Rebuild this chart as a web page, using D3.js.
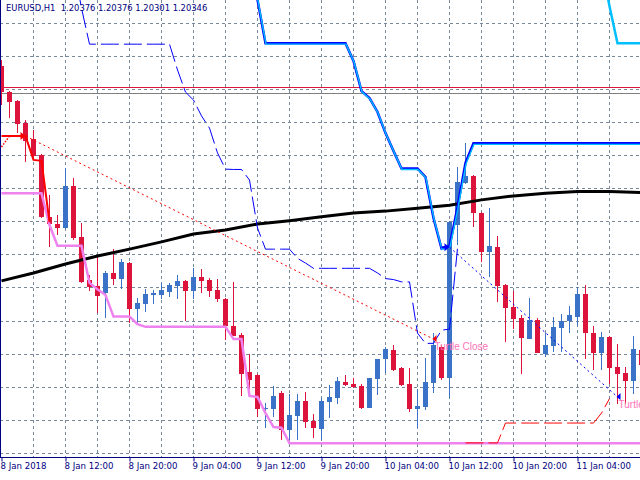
<!DOCTYPE html>
<html><head><meta charset="utf-8">
<script src="https://cdn.jsdelivr.net/npm/d3@7"></script>
<style>html,body{margin:0;padding:0;background:#fff}svg{display:block}</style>
</head><body>
<svg id="c" width="640" height="480"></svg>
<script>
// ---------- DATA (EURUSD H1, bar 0 = 8 Jan 2018 00:00) ----------
const symbolTitle = "EURUSD,H1  1.20376 1.20376 1.20301 1.20346";
const openP  = [1.20270,1.20191,1.20164,1.20097,1.20049,1.20001,1.19813,1.19792,1.19780,1.19907,1.19753,1.19623,1.19604,1.19584,1.19645,1.19626,1.19675,1.19535,1.19551,1.19578,1.19578,1.19587,1.19604,1.19620,1.19590,1.19631,1.19623,1.19592,1.19565,1.19483,1.19456,1.19344,1.19335,1.19232,1.19233,1.19281,1.19169,1.19211,1.19257,1.19197,1.19172,1.19254,1.19267,1.19315,1.19308,1.19302,1.19236,1.19324,1.19383,1.19411,1.19356,1.19308,1.19232,1.19239,1.19312,1.19421,1.19325,1.19789,1.19916,1.19937,1.19825,1.19708,1.19722,1.19607,1.19542,1.19508,1.19445,1.19502,1.19399,1.19424,1.19478,1.19499,1.19512,1.19580,1.19463,1.19403,1.19450,1.19359,1.19341,1.19318,1.19411];
const highP  = [1.20288,1.20194,1.20167,1.20107,1.20076,1.20004,1.19880,1.19819,1.19961,1.19931,1.19795,1.19638,1.19692,1.19651,1.19716,1.19686,1.19677,1.19569,1.19595,1.19592,1.19614,1.19614,1.19638,1.19623,1.19659,1.19656,1.19629,1.19626,1.19568,1.19617,1.19463,1.19399,1.19338,1.19251,1.19302,1.19287,1.19278,1.19278,1.19284,1.19217,1.19266,1.19305,1.19330,1.19335,1.19326,1.19308,1.19326,1.19384,1.19421,1.19426,1.19359,1.19356,1.19293,1.19387,1.19462,1.19426,1.19801,1.19964,1.20037,1.19940,1.19828,1.19840,1.19756,1.19610,1.19590,1.19517,1.19569,1.19508,1.19463,1.19512,1.19520,1.19544,1.19600,1.19607,1.19483,1.19466,1.19453,1.19429,1.19359,1.19453,1.19426];
const lowP   = [1.20152,1.20113,1.20067,1.19980,1.19995,1.19810,1.19722,1.19759,1.19777,1.19744,1.19614,1.19589,1.19523,1.19508,1.19607,1.19595,1.19493,1.19493,1.19527,1.19550,1.19565,1.19572,1.19565,1.19499,1.19565,1.19584,1.19571,1.19555,1.19441,1.19453,1.19272,1.19293,1.19209,1.19175,1.19209,1.19139,1.19139,1.19139,1.19175,1.19145,1.19139,1.19206,1.19247,1.19303,1.19296,1.19232,1.19235,1.19275,1.19341,1.19347,1.19302,1.19223,1.19175,1.19229,1.19282,1.19320,1.19266,1.19728,1.19913,1.19784,1.19677,1.19632,1.19557,1.19436,1.19473,1.19338,1.19444,1.19402,1.19391,1.19406,1.19406,1.19463,1.19483,1.19384,1.19350,1.19350,1.19308,1.19247,1.19247,1.19278,1.19350];
const closeP = [1.20191,1.20161,1.20094,1.20043,1.19998,1.19813,1.19792,1.19780,1.19907,1.19750,1.19617,1.19601,1.19574,1.19645,1.19626,1.19677,1.19535,1.19554,1.19580,1.19583,1.19593,1.19607,1.19620,1.19590,1.19631,1.19620,1.19590,1.19564,1.19483,1.19454,1.19338,1.19320,1.19233,1.19236,1.19272,1.19169,1.19214,1.19257,1.19194,1.19176,1.19257,1.19269,1.19317,1.19305,1.19298,1.19236,1.19326,1.19384,1.19414,1.19350,1.19305,1.19232,1.19241,1.19315,1.19426,1.19325,1.19799,1.19919,1.19937,1.19826,1.19708,1.19725,1.19604,1.19539,1.19506,1.19448,1.19502,1.19403,1.19426,1.19481,1.19499,1.19517,1.19580,1.19461,1.19403,1.19450,1.19357,1.19339,1.19318,1.19414,1.19365];

// moving average (read every 4 bars)
const maBars   = [0,4,8,12,16,20,24,28,32,36,40,44,48,52,56,60,64,68,72,76,80];
const maValues = [1.19620,1.19644,1.19671,1.19695,1.19716,1.19738,1.19762,1.19774,1.19792,1.19802,1.19814,1.19825,1.19831,1.19840,1.19849,1.19865,1.19877,1.19885,1.19890,1.19890,1.19887];

// violet trailing line, bars 0..80
const violetLine = [1.19885,1.19885,1.19885,1.19885,1.19885,1.19885,1.19789,1.19726,1.19726,1.19726,1.19726,1.19614,1.19595,1.19577,1.19512,1.19512,1.19512,1.19489,1.19481,1.19481,1.19481,1.19481,1.19481,1.19481,1.19481,1.19481,1.19481,1.19481,1.19481,1.19444,1.19444,1.19272,1.19269,1.19220,1.19178,1.19176,1.19129,1.19129,1.19129,1.19129,1.19129,1.19129,1.19129,1.19129,1.19129,1.19129,1.19129,1.19129,1.19129,1.19129,1.19129,1.19129,1.19129,1.19129,1.19129,1.19129,1.19129,1.19129,1.19129,1.19129,1.19129,1.19129,1.19129,1.19129,1.19129,1.19129,1.19129,1.19129,1.19129,1.19129,1.19129,1.19129,1.19129,1.19129,1.19129,1.19129,1.19129,1.19129,1.19129,1.19129,1.19129];

// red stop line, bars 0..6
const redStop = [1.20058,1.20058,1.20058,1.20058,1.19986,1.19983,1.19798];
const redStopLead = [1.20025,1.20058];   // bars 0..1, dotted

// thin blue dashed line, bars 9..57
const blueThinStart = 9;
const blueThin = [1.20575,1.20445,1.20336,1.20336,1.20336,1.20336,1.20336,1.20336,1.20336,1.20336,1.20336,1.20336,1.20336,1.20258,1.20191,1.20167,1.20119,1.20082,1.20007,1.19958,1.19957,1.19957,1.19925,1.19780,1.19716,1.19716,1.19716,1.19716,1.19688,1.19674,1.19658,1.19658,1.19658,1.19658,1.19658,1.19658,1.19658,1.19658,1.19644,1.19627,1.19624,1.19617,1.19617,1.19462,1.19431,1.19431,1.19471,1.19474,1.19719];

// thick channel line (blue + cyan), bars 31..80
const channelStart = 31;
const channel = [1.20591,1.20470,1.20339,1.20339,1.20339,1.20339,1.20339,1.20339,1.20339,1.20339,1.20339,1.20339,1.20339,1.20285,1.20194,1.20173,1.20131,1.20067,1.20013,1.19960,1.19960,1.19960,1.19934,1.19810,1.19718,1.19725,1.19843,1.19977,1.20036,1.20036,1.20036,1.20036,1.20036,1.20036,1.20036,1.20036,1.20036,1.20036,1.20036,1.20036,1.20036,1.20036,1.20036,1.20036,1.20036,1.20036,1.20036,1.20036,1.20036,1.20036];
// second cyan segment, bars 75..80
const cyanStart = 75;
const cyanTop = [1.20574,1.20451,1.20339,1.20339,1.20339,1.20339];

// red dashed line, bars 58..76
const redDashStart = 58;
const redDash = [1.19130,1.19130,1.19130,1.19130,1.19130,1.19190,1.19190,1.19190,1.19190,1.19190,1.19190,1.19190,1.19190,1.19190,1.19190,1.19190,1.19190,1.19220,1.19264];

// horizontal price lines
const hLines = [{p:1.20206,c:"#dc143c"},{p:1.20188,c:"#808080"}];

// trades: [openBar, openPrice, closeBar, closePrice]
const trades = [
  {ob:3, op:1.20058, cb:54, cp:1.19444, color:"#ff0000", label:"Turtle Close"},
  {ob:56, op:1.19722, cb:77, cp:1.19269, color:"#0000ff", label:"Turtle Close"}
];

const gridPrices = [1.191,1.192,1.193,1.194,1.195,1.196,1.197,1.198,1.199,1.200,1.201,1.202,1.203,1.204];
const gridBars = [4,8,12,16,20,24,28,32,36,40,44,48,52,56,60,64,68,72,76,80];
const tickBars = [0,8,16,24,32,40,48,56,64,72];
const tickLabels = ["8 Jan 2018","8 Jan 12:00","8 Jan 20:00","9 Jan 04:00","9 Jan 12:00","9 Jan 20:00","10 Jan 04:00","10 Jan 12:00","10 Jan 20:00","11 Jan 04:00"];

// ---------- DRAW ----------
const svg = d3.select("#c");
const axisY = 457;
const x = d3.scaleLinear().domain([0,80]).range([1.5,641.5]);
const y = d3.scaleLinear().domain([1.1910,1.2040]).range([452.8,23]);

svg.append("defs").append("clipPath").attr("id","plot")
  .append("rect").attr("x",0).attr("y",0).attr("width",640).attr("height",axisY);
const plot = svg.append("g").attr("clip-path","url(#plot)");

// grid
const gridC = "#778899";
plot.append("g").selectAll("line").data(gridPrices).join("line")
  .attr("x1",0).attr("x2",640)
  .attr("y1",d=>Math.round(y(d))+0.5).attr("y2",d=>Math.round(y(d))+0.5)
  .attr("stroke",gridC).attr("stroke-width",1).attr("stroke-dasharray","3,3")
  .attr("shape-rendering","crispEdges");
plot.append("g").selectAll("line").data(gridBars).join("line")
  .attr("x1",d=>x(d)).attr("x2",d=>x(d)).attr("y1",0).attr("y2",axisY)
  .attr("stroke",gridC).attr("stroke-width",1).attr("stroke-dasharray","3,3")
  .attr("shape-rendering","crispEdges");

// horizontal price lines
plot.append("g").selectAll("line").data(hLines).join("line")
  .attr("x1",0).attr("x2",640)
  .attr("y1",d=>Math.round(y(d.p))+0.5).attr("y2",d=>Math.round(y(d.p))+0.5)
  .attr("stroke",d=>d.c).attr("stroke-width",1).attr("shape-rendering","crispEdges");

// candles
const bullC = "#3a72c8", bearC = "#dc143c";
const bars = openP.map((o,i)=>({i,o,h:highP[i],l:lowP[i],c:closeP[i]}));
const cg = plot.append("g").attr("shape-rendering","crispEdges");
cg.selectAll("line").data(bars).join("line")
  .attr("x1",d=>x(d.i)).attr("x2",d=>x(d.i))
  .attr("y1",d=>y(d.h)).attr("y2",d=>y(d.l))
  .attr("stroke",d=>d.c>=d.o?bullC:bearC).attr("stroke-width",1);
cg.selectAll("rect").data(bars).join("rect")
  .attr("x",d=>x(d.i)-2.5).attr("width",5)
  .attr("y",d=>y(Math.max(d.o,d.c)))
  .attr("height",d=>Math.max(1,Math.abs(y(d.o)-y(d.c))))
  .attr("fill",d=>d.c>=d.o?bullC:bearC);

const line = d3.line().x(d=>x(d[0])).y(d=>y(d[1]));
const seq = (start,arr)=>arr.map((v,k)=>[start+k,v]);

// moving average
plot.append("path").datum(maBars.map((b,k)=>[b,maValues[k]]))
  .attr("d",line).attr("fill","none").attr("stroke","#000").attr("stroke-width",3);

// violet trailing line
plot.append("path").datum(seq(0,violetLine))
  .attr("d",line).attr("fill","none").attr("stroke","#ee82ee").attr("stroke-width",2.5);

// red stop line
plot.append("path").datum(seq(0,redStop))
  .attr("d",line).attr("fill","none").attr("stroke","#ff0000").attr("stroke-width",2);
plot.append("path").datum(seq(0,redStopLead))
  .attr("d",line).attr("fill","none").attr("stroke","#ff0000").attr("stroke-width",1.5).attr("stroke-dasharray","1.5,1.5");

// thin blue dashed
plot.append("path").datum(seq(blueThinStart,blueThin))
  .attr("d",line).attr("fill","none").attr("stroke","#0000ff").attr("stroke-width",1).attr("stroke-dasharray","18,5");

// thick channel
plot.append("path").datum(seq(channelStart,channel))
  .attr("d",line).attr("fill","none").attr("stroke","#0000ff").attr("stroke-width",2.5);
plot.append("path").datum(seq(channelStart,channel))
  .attr("d",line).attr("fill","none").attr("stroke","#00bfff").attr("stroke-width",1.4)
  .attr("transform","translate(0.5,1)");
plot.append("path").datum(seq(cyanStart,cyanTop))
  .attr("d",line).attr("fill","none").attr("stroke","#00bfff").attr("stroke-width",2.5);

// red dashed lower
plot.append("path").datum(seq(redDashStart,redDash))
  .attr("d",line).attr("fill","none").attr("stroke","#ff0000").attr("stroke-width",1).attr("stroke-dasharray","18,5");

// trades
trades.forEach(t=>{
  plot.append("line")
    .attr("x1",x(t.ob)).attr("y1",y(t.op)).attr("x2",x(t.cb)).attr("y2",y(t.cp))
    .attr("stroke",t.color).attr("stroke-width",1).attr("stroke-dasharray","2,3");
  const ox=x(t.ob), oy=y(t.op);
  plot.append("path")
    .attr("d",`M${ox},${oy} L${ox-5},${oy-4} L${ox-5},${oy-1} L${ox-8},${oy-1} L${ox-8},${oy+1} L${ox-5},${oy+1} L${ox-5},${oy+4} Z`)
    .attr("fill",t.color);
  const cx=x(t.cb), cy=y(t.cp);
  plot.append("path")
    .attr("d",`M${cx-1},${cy} L${cx+3},${cy-4} L${cx+3},${cy+3} Z`)
    .attr("fill",t.color);
  plot.append("text").attr("x",cx+1).attr("y",cy+11)
    .attr("font-family","Liberation Sans, Arial, sans-serif").attr("font-size",10)
    .attr("fill","#ff74b8").text(t.label);
});

// left border
svg.append("line").attr("x1",0.5).attr("x2",0.5).attr("y1",0).attr("y2",axisY)
  .attr("stroke","#000080").attr("stroke-width",1.5).attr("shape-rendering","crispEdges");

// bottom axis
const axis = d3.axisBottom(x).tickValues(tickBars).tickFormat((d,k)=>tickLabels[k]).tickSize(4).tickSizeOuter(0);
const ag = svg.append("g").attr("transform",`translate(0,${axisY+0.5})`).call(axis);
ag.select(".domain").attr("d","M0,0H640").attr("stroke","#000080");
ag.selectAll(".tick line").attr("stroke","#000080");
ag.selectAll(".tick text").attr("text-anchor","start").attr("dx",-1.5).attr("y",5).attr("dy","0.71em")
  .attr("font-family","DejaVu Sans, sans-serif").attr("font-size",8.6).attr("fill","#000080");
ag.attr("font-family",null).attr("font-size",null);

// title
svg.append("text").attr("x",6).attr("y",10.5)
  .attr("font-family","DejaVu Sans, sans-serif").attr("font-size",8.4).attr("fill","#000080")
  .attr("xml:space","preserve").style("white-space","pre").text(symbolTitle);
</script>
</body></html>
